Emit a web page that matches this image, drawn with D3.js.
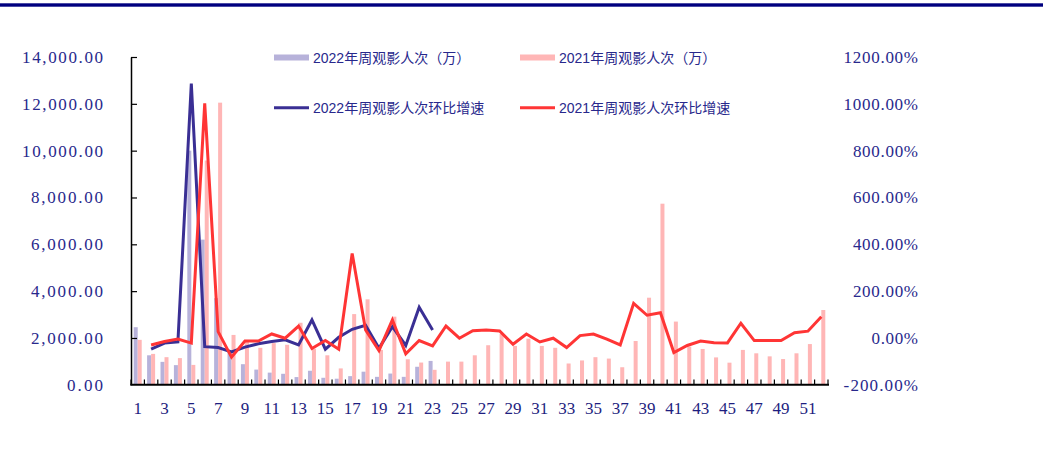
<!DOCTYPE html>
<html><head><meta charset="utf-8">
<script src="https://cdn.jsdelivr.net/npm/d3@7"></script>
<style>body{margin:0;background:#fff}</style>
</head><body>
<svg id="chart" width="1043" height="463"></svg>
<script>
const weeks = d3.range(1, 53).map(String);
const xTickLabels = weeks.filter((d, i) => i % 2 === 0);
const leftTicks = [0, 2000, 4000, 6000, 8000, 10000, 12000, 14000];
const rightTicks = [-200, 0, 200, 400, 600, 800, 1000, 1200];

const views2022 = [2460, 1260, 980, 840, 10000, 6200, 3700, 1400, 880, 650, 520, 470, 330, 600, 300, 260, 370, 560, 340, 480, 340, 770, 1020];
const views2021 = [1920, 1320, 1180, 1140, 850, 9580, 12050, 2130, 1870, 1580, 1780, 1710, 2650, 1540, 1260, 700, 3020, 3650, 1490, 2910, 1090, 950, 640, 990, 990, 1260, 1690, 2170, 1660, 1970, 1660, 1580, 910, 1040, 1180, 1120, 750, 1870, 3720, 7735, 2700, 1630, 1530, 1170, 945, 1490, 1345, 1215, 1100, 1345, 1740, 3195];
const growth2022 = [null, -48, -22, -17, 1087, -37, -41, -60, -39, -25, -15, -8, -30, 77, -48, 3, 37, 54, -44, 48, -32, 131, 34];
const growth2021 = [null, -30, -15, -5, -22, 1002, 27, -82, -13, -13, 17, -1, 51, -45, -11, -48, 361, 34, -54, 77, -68, -11, -34, 51, -1, 31, 34, 30, -27, 17, -17, -1, -41, 10, 17, -5, -30, 148, 97, 108, -62, -32, -13, -20, -21, 63, -11, -11, -11, 22, 29, 91];

const seriesNames = ["2022", "2021"];
const legendLabels = ["2022年周观影人次（万）", "2021年周观影人次（万）", "2022年周观影人次环比增速", "2021年周观影人次环比增速"];

const C = {bar22: "#b7b2da", bar21: "#ffb6b6", line22: "#3a2f94", line21: "#ff3535", text: "#28288c"};

const svg = d3.select("#chart");
svg.append("rect").attr("x", 0).attr("y", 3.3).attr("width", 1043).attr("height", 3.4).attr("fill", "#00007f");

const x = d3.scaleBand().domain(weeks).range([131, 828]).padding(0);
const bw = x.bandwidth();
const x1 = d3.scaleBand().domain(seriesNames).range([0, 8]);
const yL = d3.scaleLinear().domain([0, 14000]).range([384.8, 57]);
const yR = d3.scaleLinear().domain([-200, 1200]).range([384.8, 57]);

// bars
const barData = [];
views2022.forEach((v, i) => barData.push({w: weeks[i], s: "2022", v}));
views2021.forEach((v, i) => barData.push({w: weeks[i], s: "2021", v}));
svg.append("g").selectAll("rect").data(barData).join("rect")
  .attr("x", d => x(d.w) + bw / 2 - 4 + x1(d.s))
  .attr("width", x1.bandwidth())
  .attr("y", d => yL(d.v))
  .attr("height", d => yL(0) - yL(d.v))
  .attr("fill", d => d.s === "2022" ? C.bar22 : C.bar21);

// lines
const line = d3.line().defined(d => d != null)
  .x((d, i) => x(weeks[i]) + bw / 2).y(d => yR(d));
svg.append("path").datum(growth2022).attr("d", line).attr("fill", "none")
  .attr("stroke", C.line22).attr("stroke-width", 3);
svg.append("path").datum(growth2021).attr("d", line).attr("fill", "none")
  .attr("stroke", C.line21).attr("stroke-width", 3);

// left axis
const gL = svg.append("g").attr("transform", "translate(131,0)")
  .call(d3.axisLeft(yL).tickValues(leftTicks).tickSizeInner(-6).tickSizeOuter(0).tickPadding(28)
    .tickFormat(d3.format(",.2f")));
gL.select(".domain").attr("stroke", "#000").attr("stroke-width", 1.5);
gL.selectAll(".tick line").attr("stroke", "#000").attr("stroke-width", 1.2);
gL.selectAll(".tick").filter(d => d === 0).select("line").remove();
gL.selectAll("text").attr("font-family", "'Liberation Serif', serif").attr("font-size", 17)
  .attr("fill", C.text).attr("textLength", function() { return this.textContent.length * 9; })
  .attr("lengthAdjust", "spacing");

// right axis labels
const gR = svg.append("g").attr("transform", "translate(828,0)")
  .call(d3.axisRight(yR).tickValues(rightTicks).tickSize(0).tickPadding(90)
    .tickFormat(d => d.toFixed(2) + "%"));
gR.select(".domain").remove();
gR.selectAll("text").attr("text-anchor", "end").attr("font-family", "'Liberation Serif', serif")
  .attr("font-size", 17).attr("fill", C.text)
  .attr("textLength", function() { return this.textContent.length * 9.3; })
  .attr("lengthAdjust", "spacing");

// bottom axis
const gB = svg.append("g").attr("transform", "translate(0,384.8)")
  .call(d3.axisBottom(x).tickValues(xTickLabels).tickSize(0).tickPadding(17));
gB.select(".domain").remove();
gB.selectAll("text").attr("font-family", "'Liberation Serif', serif").attr("font-size", 17).attr("fill", "#1e1e80");
const edges = weeks.map(w => x(w)).concat([x.range()[1]]);
svg.append("g").selectAll("line").data(edges).join("line")
  .attr("x1", d => d).attr("x2", d => d).attr("y1", 384.8).attr("y2", 379.5)
  .attr("stroke", "#000").attr("stroke-width", 1.2);
svg.append("line").attr("x1", 130.3).attr("x2", 829).attr("y1", 384.8).attr("y2", 384.8)
  .attr("stroke", "#000").attr("stroke-width", 2);

// legend
const legendItems = [
  {label: legendLabels[0], type: "bar", color: C.bar22, x: 274, y: 57.5},
  {label: legendLabels[1], type: "bar", color: C.bar21, x: 520, y: 57.5},
  {label: legendLabels[2], type: "line", color: C.line22, x: 274, y: 107.7},
  {label: legendLabels[3], type: "line", color: C.line21, x: 520, y: 107.7}
];
const lg = svg.append("g").selectAll("g").data(legendItems).join("g")
  .attr("transform", d => `translate(${d.x},${d.y})`);
lg.filter(d => d.type === "bar").append("rect").attr("x", 0).attr("y", -3).attr("width", 35).attr("height", 6).attr("fill", d => d.color);
lg.filter(d => d.type === "line").append("line").attr("x1", 0).attr("x2", 35).attr("y1", 0).attr("y2", 0)
  .attr("stroke", d => d.color).attr("stroke-width", 3);
lg.append("text").attr("x", 39).attr("y", 0).attr("dominant-baseline", "central")
  .attr("font-family", "'Liberation Sans', 'Noto Sans CJK SC', sans-serif").attr("font-size", 14)
  .attr("fill", C.text).text(d => d.label);
</script>
</body></html>
